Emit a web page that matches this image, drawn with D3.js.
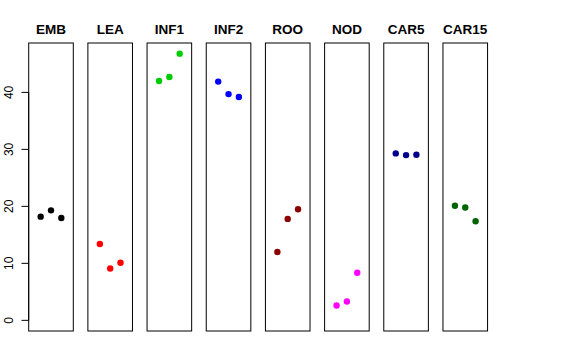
<!DOCTYPE html>
<html><head><meta charset="utf-8">
<script src="https://cdn.jsdelivr.net/npm/d3@7"></script>
<style>body{margin:0;background:#fff}svg{display:block}</style>
</head><body>
<svg id="c" width="576" height="360"></svg>
<script>
const categories = ["EMB","LEA","INF1","INF2","ROO","NOD","CAR5","CAR15"];
const colors = ["#000000","#FF0000","#00CD00","#0000FF","#8B0000","#FF00FF","#00008B","#006400"];
const values = [
  [18.2, 19.3, 17.95],
  [13.4, 9.1, 10.1],
  [42.0, 42.7, 46.8],
  [41.9, 39.7, 39.2],
  [12.0, 17.8, 19.5],
  [2.6, 3.3, 8.35],
  [29.3, 29.0, 29.05],
  [20.1, 19.8, 17.4]
];
const yTicks = [0, 10, 20, 30, 40];
const replicates = [1, 2, 3];

(function () {
const svg = d3.select("#c");
const plotTop = 43, plotBottom = 331;
const y = d3.scaleLinear().domain([-1.87, 48.67]).range([plotBottom, plotTop]);
const panelX = d3.scaleBand().domain(categories).range([28.7, 28.7 + 59.18 * 8]).paddingInner(0);
const pw = 44.6;
const x = d3.scaleLinear().domain([-0.16, 4.16]).range([0, pw]);

categories.forEach((cat, i) => {
  const g = svg.append("g").attr("transform", `translate(${panelX(cat)},0)`);
  g.append("rect").attr("x", 0).attr("y", plotTop).attr("width", pw).attr("height", plotBottom - plotTop)
    .attr("fill", "none").attr("stroke", "#000").attr("stroke-width", 1);
  g.append("text").attr("x", pw / 2).attr("y", 34).attr("text-anchor", "middle")
    .attr("font-family", "Liberation Sans, Arial, sans-serif").attr("font-weight", "bold")
    .attr("font-size", "13.5px").text(cat);
  g.selectAll("circle").data(values[i]).enter().append("circle")
    .attr("cx", (d, j) => x(replicates[j])).attr("cy", d => y(d)).attr("r", 3.2)
    .attr("fill", colors[i]);
});

const ax = svg.append("g");
ax.append("line").attr("x1", 28.7).attr("x2", 28.7).attr("y1", y(0)).attr("y2", y(40)).attr("stroke", "#000");
yTicks.forEach(t => {
  ax.append("line").attr("x1", 21.5).attr("x2", 28.7).attr("y1", y(t)).attr("y2", y(t)).attr("stroke", "#000");
  ax.append("text").attr("transform", `translate(12.5,${y(t)}) rotate(-90)`)
    .attr("text-anchor", "middle").attr("font-family", "Liberation Sans, Arial, sans-serif")
    .attr("font-size", "12px").text(t);
});
})();
</script>
</body></html>
